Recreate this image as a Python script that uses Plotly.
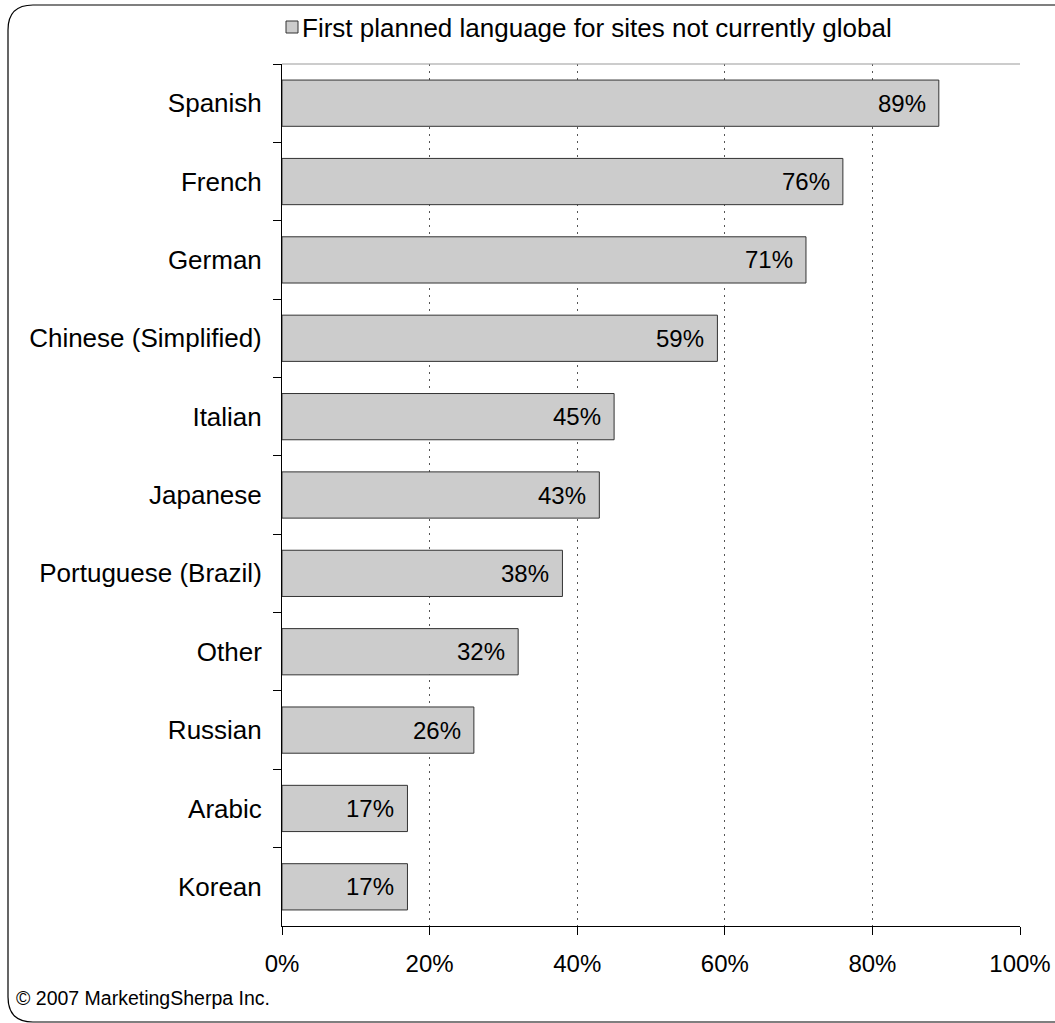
import plotly.graph_objects as go

# Survey data: first planned language for sites not currently global
languages = ["Spanish", "French", "German", "Chinese (Simplified)", "Italian",
             "Japanese", "Portuguese (Brazil)", "Other", "Russian", "Arabic", "Korean"]
shares = [89, 76, 71, 59, 45, 43, 38, 32, 26, 17, 17]
x_ticks = [0, 20, 40, 60, 80, 100]
x_tick_labels = ["0%", "20%", "40%", "60%", "80%", "100%"]
series_name = "First planned language for sites not currently global"
credit = "© 2007 MarketingSherpa Inc."

W, H = 1055, 1023
ML, MR, MT, MB = 282, 35, 64, 97
PW, PH = W - ML - MR, H - MT - MB
FONT = "Arial, Liberation Sans, sans-serif"
BAR_FILL, BAR_EDGE = "#cccccc", "#333333"


def px(x):
    return (x - ML) / PW


def py(y):
    return (H - MB - y) / PH


fig = go.Figure()
fig.add_trace(go.Bar(
    y=languages,
    x=shares,
    orientation="h",
    width=0.59,
    name=series_name,
    marker=dict(color=BAR_FILL, line=dict(color=BAR_EDGE, width=1)),
    showlegend=False,
    hoverinfo="skip",
))

# value labels inside the bar ends
for lang, v in zip(languages, shares):
    fig.add_annotation(x=v, y=lang, xref="x", yref="y", text=f"{v}%",
                       showarrow=False, xanchor="right", xshift=-11,
                       font=dict(family=FONT, size=24, color="#000000"))

# legend key: swatch plus series name above the plot
fig.add_shape(type="rect", xref="paper", yref="paper",
              x0=px(286), x1=px(298), y0=py(33), y1=py(21),
              fillcolor=BAR_FILL, line=dict(color=BAR_EDGE, width=1))
fig.add_annotation(text=series_name, xref="paper", yref="paper", x=px(300), y=py(28),
                   xanchor="left", yanchor="middle", showarrow=False,
                   font=dict(family=FONT, size=26, color="#000000"))

# rounded outer frame (its right side runs past the page edge)
l, t, r, b, rad = 8, 5, 1120, 1022, 25
frame = (f"M {px(l)},{py(t + rad)} Q {px(l)},{py(t)} {px(l + rad)},{py(t)} "
         f"L {px(r - rad)},{py(t)} Q {px(r)},{py(t)} {px(r)},{py(t + rad)} "
         f"L {px(r)},{py(b - rad)} Q {px(r)},{py(b)} {px(r - rad)},{py(b)} "
         f"L {px(l + rad)},{py(b)} Q {px(l)},{py(b)} {px(l)},{py(b - rad)} Z")
fig.add_shape(type="path", path=frame, xref="paper", yref="paper",
              line=dict(color="#000000", width=1.2), layer="below")

# light top edge of the plot area
fig.add_shape(type="line", xref="paper", yref="paper", x0=0, x1=1, y0=1, y1=1,
              line=dict(color="#999999", width=1))

fig.add_annotation(text=credit, xref="paper", yref="paper", x=px(14), y=py(998),
                   xanchor="left", yanchor="middle", showarrow=False,
                   font=dict(family=FONT, size=19.5, color="#000000"))

fig.update_layout(
    width=W, height=H,
    margin=dict(l=ML, r=MR, t=MT, b=MB),
    paper_bgcolor="white", plot_bgcolor="white",
    font=dict(family=FONT, size=24, color="#000000"),
    showlegend=False,
    xaxis=dict(range=[0, 100], tickvals=x_ticks, ticktext=x_tick_labels,
               showgrid=True, gridcolor="#555555", griddash="2px,5px", gridwidth=1,
               showline=True, linecolor="#000000", linewidth=1,
               ticks="outside", ticklen=8, tickcolor="#000000",
               ticklabelstandoff=8, zeroline=False, fixedrange=True,
               automargin=False, tickfont=dict(family=FONT, size=24)),
    yaxis=dict(categoryorder="array", categoryarray=languages, autorange="reversed",
               showline=True, linecolor="#000000", linewidth=1,
               ticks="outside", ticklen=8, tickcolor="#000000", tickson="boundaries",
               ticklabelstandoff=14, showgrid=False, fixedrange=True,
               automargin=False, tickfont=dict(family=FONT, size=26)),
)

fig.write_html("out.html")
